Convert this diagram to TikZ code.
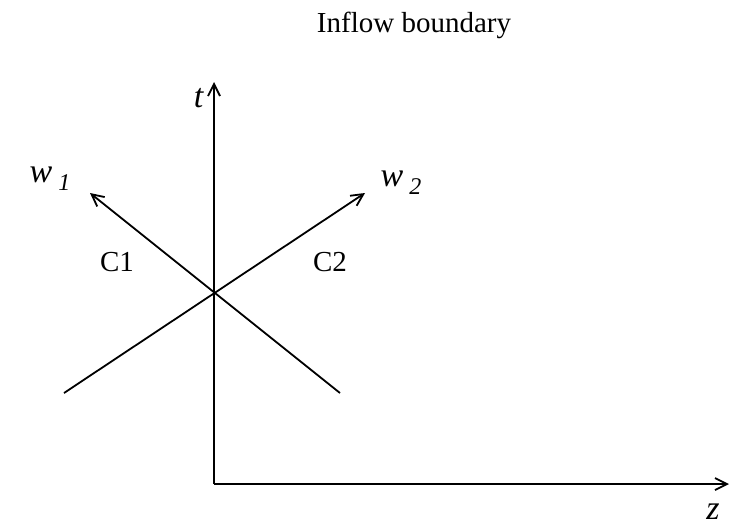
\documentclass[tikz,border=0pt]{standalone}
\usepackage{fontspec}
\setmainfont{Liberation Serif}
\usetikzlibrary{arrows.meta}
\tikzset{
  axis/.style={line width=0.9pt,-{Straight Barb[length=6pt,width=6pt]}},
  charline/.style={line width=0.9pt},
  lbl/.style={font=\fontsize{14.5}{17}\selectfont,inner sep=1pt},
  varlbl/.style={font=\fontsize{17}{19}\selectfont,inner sep=1pt}
}
\begin{document}
\begin{tikzpicture}[x=0.5pt,y=0.5pt]
  \useasboundingbox (0,0) rectangle (733,527);
  % axes
  \coordinate (O) at (214,43);
  \coordinate (ttip) at (214,445);
  \coordinate (ztip) at (729,43);
  \draw[axis] (O) -- (ttip);
  \draw[axis] (O) -- (ztip);
  % characteristics
  \coordinate (c1start) at (340,134);
  \coordinate (c1tip) at (90,334);
  \coordinate (c2start) at (64,134);
  \coordinate (c2tip) at (365,334);
  \draw[charline,axis] (c1start) -- (c1tip);
  \draw[charline,axis] (c2start) -- (c2tip);
  % labels
  \node[lbl] (title) at (414,502) {Inflow boundary};
  \node[varlbl] (tlabel) at (199,429) {\textit{t}};
  \node[varlbl] (zlabel) at (713,15) {\textit{z}};
  \node[varlbl] (w1) at (50,348) {\textit{w}\kern3pt\raisebox{-4pt}{\fontsize{12}{14}\selectfont\textit{1}}};
  \node[varlbl] (w2) at (401,344) {\textit{w}\kern3pt\raisebox{-4pt}{\fontsize{12}{14}\selectfont\textit{2}}};
  \node[lbl] (C1) at (117,265) {C1};
  \node[lbl] (C2) at (330,265) {C2};
\end{tikzpicture}
\end{document}
